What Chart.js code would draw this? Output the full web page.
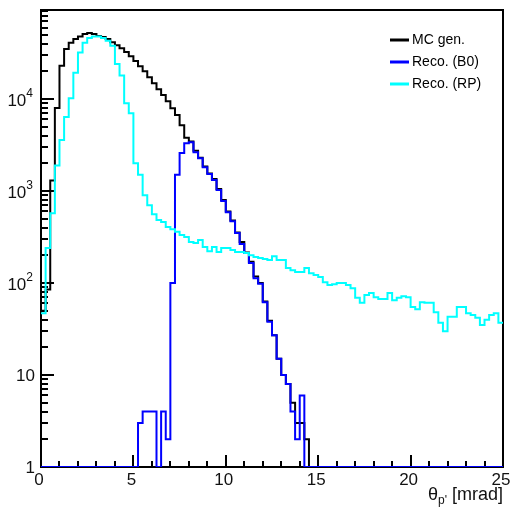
<!DOCTYPE html>
<html>
<head>
<meta charset="utf-8">
<script src="https://cdn.jsdelivr.net/npm/chart.js@4.4.0/dist/chart.umd.min.js"></script>
<style>
  html, body { margin: 0; padding: 0; background: #fff; }
  #wrap { position: relative; width: 514px; height: 510px; }
</style>
</head>
<body>
<div id="wrap"><canvas id="chart"></canvas></div>
<script>
// histogram: 100 bins of 0.25 mrad from 0 to 25
const binWidth = 0.25;
const xMajorTicks = [0, 5, 10, 15, 20, 25];
const yDecades = [1, 10, 100, 1000, 10000];
const yFloor = 1; // empty bins sit on the axis, as in ROOT log plots

// MC generated
const mcGen = [
  50, 85, 1300, 8000, 23000, 35000, 41000, 45000, 48000, 50900,
  52200, 50900, 48400, 47200, 44900, 41600, 38600, 35800, 32400, 29300,
  25900, 22800, 20100, 17300, 14900, 12800, 11100, 9500, 7970, 6700,
  5200, 3800, 3450, 2750, 2300, 1850, 1550, 1350, 1050, 800,
  600, 480, 355, 280, 215, 170, 118, 100, 63, 39,
  27, 15, 10, 8, 5, 3, 3, 2, 0, 0,
  0, 0, 0, 0, 0, 0, 0, 0, 0, 0,
  0, 0, 0, 0, 0, 0, 0, 0, 0, 0,
  0, 0, 0, 0, 0, 0, 0, 0, 0, 0,
  0, 0, 0, 0, 0, 0, 0, 0, 0, 0
];

// reconstructed in B0
const recoB0 = [
  0, 0, 0, 0, 0, 0, 0, 0, 0, 0,
  0, 0, 0, 0, 0, 0, 0, 0, 0, 0,
  0, 3, 4, 4, 4, 0, 4, 2, 100, 1500,
  2600, 3300, 3400, 2650, 2280, 1820, 1530, 1320, 1030, 780,
  590, 470, 350, 265, 212, 165, 113, 98, 62, 38,
  27, 15, 10, 8, 4, 2, 6, 0, 0, 0,
  0, 0, 0, 0, 0, 0, 0, 0, 0, 0,
  0, 0, 0, 0, 0, 0, 0, 0, 0, 0,
  0, 0, 0, 0, 0, 0, 0, 0, 0, 0,
  0, 0, 0, 0, 0, 0, 0, 0, 0, 0
];

// reconstructed in Roman pots
const recoRP = [
  47, 240, 575, 1900, 3600, 6400, 10200, 19300, 32000, 41000,
  46000, 48000, 48000, 46000, 43000, 38000, 24000, 18000, 9000, 7000,
  2000, 1500, 900, 700, 560, 484, 460, 406, 385, 360,
  332, 316, 279, 272, 293, 246, 222, 246, 217, 240,
  240, 228, 217, 217, 212, 201, 192, 187, 182, 178,
  196, 178, 178, 146, 138, 132, 132, 146, 128, 122,
  116, 102, 95, 97, 100, 100, 95, 88, 69, 61,
  74, 78, 70, 67, 67, 78, 65, 69, 72, 70,
  55, 52, 62, 61, 61, 48, 37, 30, 43, 43,
  55, 55, 47, 45, 42, 35, 40, 45, 47, 37
];

const seriesNames = ['MC gen.', 'Reco. (B0)', 'Reco. (RP)'];
const seriesColors = ['#000000', '#0000ff', '#00ffff'];

const FONT = '"Liberation Sans", Arial, sans-serif';

function toSteps(values) {
  const pts = values.map((v, i) => ({ x: i * binWidth, y: Math.max(v, yFloor) }));
  pts.push({ x: values.length * binWidth, y: Math.max(values[values.length - 1], yFloor) });
  return pts;
}

const rootStyle = {
  id: 'rootStyle',
  // frame and ticks go under the histograms
  beforeDatasetsDraw(chart) {
    const ctx = chart.ctx;
    const a = chart.chartArea;
    const xs = chart.scales.x, ys = chart.scales.y;
    ctx.save();
    ctx.strokeStyle = '#000';
    ctx.lineWidth = 2;
    ctx.strokeRect(a.left, a.top, a.right - a.left, a.bottom - a.top);

    ctx.beginPath();
    for (let v = xs.min; v <= xs.max; v += 1) {
      const px = Math.round(xs.getPixelForValue(v));
      const len = (v % 5 === 0) ? 12 : 6;
      ctx.moveTo(px, a.bottom);
      ctx.lineTo(px, a.bottom - len);
    }
    yDecades.forEach(d => {
      for (let m = 1; m <= 9; m++) {
        const v = m * d;
        if (v > ys.max) break;
        const py = Math.round(ys.getPixelForValue(v));
        const len = m === 1 ? 13 : 7;
        ctx.moveTo(a.left, py);
        ctx.lineTo(a.left + len, py);
      }
    });
    ctx.stroke();
    ctx.restore();
  },
  afterDatasetsDraw(chart) {
    const ctx = chart.ctx;
    const a = chart.chartArea;
    const xs = chart.scales.x, ys = chart.scales.y;
    ctx.save();

    // x labels
    ctx.fillStyle = '#111';
    ctx.font = '17px ' + FONT;
    ctx.textAlign = 'center';
    ctx.textBaseline = 'middle';
    xMajorTicks.forEach(v => {
      ctx.fillText(String(v), xs.getPixelForValue(v) - 2, a.bottom + 13);
    });

    // y labels
    yDecades.forEach(d => {
      const py = ys.getPixelForValue(d);
      const exp = Math.round(Math.log10(d));
      ctx.textAlign = 'right';
      if (exp < 2) {
        ctx.font = '17px ' + FONT;
        ctx.fillText(String(d), 35, py + 1);
      } else {
        ctx.font = '12px ' + FONT;
        const ew = ctx.measureText(String(exp)).width;
        ctx.fillText(String(exp), 33, py - 5);
        ctx.font = '17px ' + FONT;
        ctx.fillText('10', 33 - ew, py + 2);
      }
    });

    // axis title: theta_{p'} [mrad]
    ctx.textAlign = 'left';
    ctx.textBaseline = 'alphabetic';
    ctx.font = '18px ' + FONT;
    const t1 = '\u03b8', t3 = ' [mrad]';
    const w1 = ctx.measureText(t1).width, w3 = ctx.measureText(t3).width;
    ctx.font = '12px ' + FONT;
    const t2 = "p'";
    const w2 = ctx.measureText(t2).width;
    const tx = a.right - (w1 + w2 + w3);
    const ty = 500;
    ctx.font = '18px ' + FONT;
    ctx.fillText(t1, tx, ty);
    ctx.font = '12px ' + FONT;
    ctx.fillText(t2, tx + w1, ty + 4);
    ctx.font = '18px ' + FONT;
    ctx.fillText(t3, tx + w1 + w2, ty);

    // legend
    ctx.font = '14px ' + FONT;
    ctx.textBaseline = 'middle';
    ctx.fillStyle = '#000';
    seriesNames.forEach((name, i) => {
      const ly = 40 + i * 22;
      ctx.strokeStyle = seriesColors[i];
      ctx.lineWidth = 3;
      ctx.beginPath();
      ctx.moveTo(390, ly);
      ctx.lineTo(409, ly);
      ctx.stroke();
      ctx.fillText(name, 412, ly);
    });
    ctx.restore();
  }
};

const series = [mcGen, recoB0, recoRP];
const datasets = series.map((vals, i) => ({
  label: seriesNames[i],
  data: toSteps(vals),
  borderColor: seriesColors[i],
  borderWidth: 2,
  pointRadius: 0,
  stepped: true,
  fill: false,
  borderJoinStyle: 'miter',
  borderCapStyle: 'butt',
  order: 3 - i
}));

new Chart(document.getElementById('chart'), {
  type: 'line',
  data: { datasets },
  options: {
    responsive: true,
    maintainAspectRatio: false,
    animation: false,
    layout: { padding: { left: 41, right: 11, top: 10, bottom: 43 } },
    plugins: { legend: { display: false }, tooltip: { enabled: false } },
    events: [],
    scales: {
      x: { type: 'linear', min: 0, max: 25, display: false },
      y: { type: 'logarithmic', min: 1, max: 93000, display: false }
    }
  },
  plugins: [rootStyle]
});
</script>
</body>
</html>
